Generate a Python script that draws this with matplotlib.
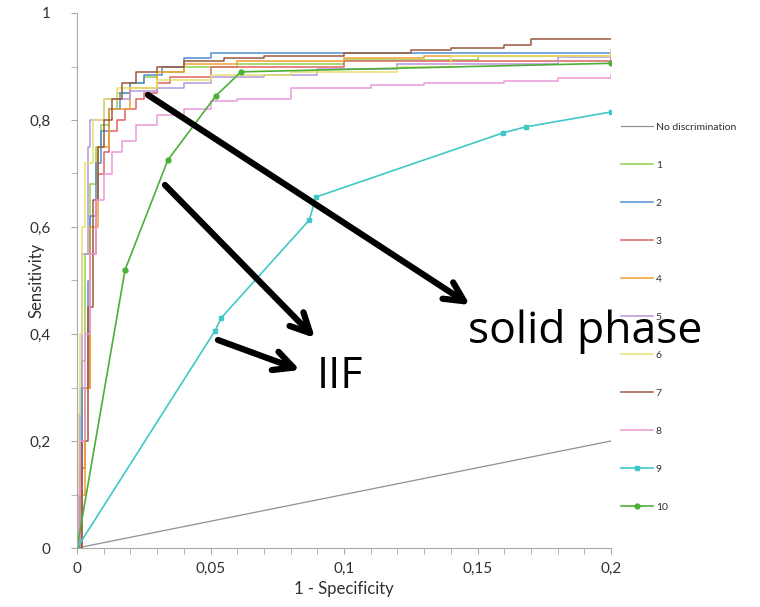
import matplotlib
matplotlib.use("Agg")
import matplotlib.pyplot as plt
from matplotlib.ticker import MultipleLocator, FuncFormatter

plt.rcParams['font.family'] = ['Lato', 'DejaVu Sans']

# ---- data ----
nodisc_x = [0.0, 0.2]
nodisc_y = [0.0, 0.2]

c1_x = [0, 0.001, 0.002, 0.003, 0.005, 0.007, 0.009, 0.012, 0.015, 0.02, 0.025, 0.03, 0.04, 0.06, 0.1, 0.15, 0.2]
c1_y = [0, 0.15, 0.35, 0.55, 0.68, 0.75, 0.79, 0.82, 0.85, 0.87, 0.88, 0.89, 0.90, 0.905, 0.912, 0.92, 0.925]

c2_x = [0, 0.001, 0.002, 0.004, 0.005, 0.007, 0.009, 0.012, 0.016, 0.02, 0.025, 0.032, 0.04, 0.05, 0.2]
c2_y = [0, 0.12, 0.3, 0.5, 0.62, 0.72, 0.78, 0.82, 0.85, 0.87, 0.885, 0.9, 0.915, 0.925, 0.925]

c3_x = [0, 0.002, 0.003, 0.005, 0.007, 0.008, 0.010, 0.012, 0.015, 0.018, 0.022, 0.025, 0.03, 0.035, 0.05, 0.1, 0.2]
c3_y = [0, 0.15, 0.3, 0.55, 0.65, 0.7, 0.74, 0.78, 0.80, 0.82, 0.84, 0.85, 0.87, 0.88, 0.9, 0.91, 0.918]

c4_x = [0, 0.001, 0.003, 0.005, 0.008, 0.012, 0.02, 0.03, 0.04, 0.06, 0.1, 0.13, 0.2]
c4_y = [0, 0.1, 0.3, 0.6, 0.75, 0.82, 0.86, 0.89, 0.905, 0.91, 0.915, 0.92, 0.93]

c5_x = [0, 0.001, 0.002, 0.004, 0.005, 0.010, 0.02, 0.03, 0.04, 0.05, 0.07, 0.09, 0.12, 0.18, 0.2]
c5_y = [0, 0.3, 0.55, 0.75, 0.8, 0.84, 0.855, 0.86, 0.87, 0.88, 0.885, 0.895, 0.905, 0.918, 0.918]

c6_x = [0, 0.0005, 0.001, 0.002, 0.003, 0.006, 0.01, 0.015, 0.03, 0.05, 0.08, 0.12, 0.14, 0.2]
c6_y = [0, 0.25, 0.4, 0.6, 0.72, 0.8, 0.84, 0.86, 0.875, 0.885, 0.89, 0.9, 0.92, 0.93]

c7_x = [0, 0.002, 0.004, 0.006, 0.008, 0.010, 0.013, 0.017, 0.022, 0.03, 0.04, 0.055, 0.07, 0.1, 0.125, 0.14, 0.16, 0.17, 0.2]
c7_y = [0, 0.2, 0.45, 0.65, 0.75, 0.8, 0.84, 0.87, 0.89, 0.9, 0.91, 0.915, 0.92, 0.925, 0.93, 0.935, 0.94, 0.952, 0.952]

c8_x = [0, 0.0005, 0.001, 0.003, 0.005, 0.007, 0.01, 0.013, 0.017, 0.022, 0.03, 0.04, 0.05, 0.06, 0.08, 0.11, 0.13, 0.16, 0.18, 0.2]
c8_y = [0, 0.1, 0.2, 0.4, 0.55, 0.65, 0.7, 0.74, 0.76, 0.79, 0.81, 0.82, 0.835, 0.84, 0.86, 0.865, 0.87, 0.872, 0.878, 0.884]

c9_x = [0, 0.0517, 0.054, 0.087, 0.0895, 0.1596, 0.168, 0.2]
c9_y = [0, 0.406, 0.43, 0.613, 0.656, 0.776, 0.787, 0.815]

c10_x = [0, 0.018, 0.034, 0.052, 0.0614, 0.2]
c10_y = [0, 0.52, 0.725, 0.845, 0.89, 0.906]

labels = ["No discrimination", "1", "2", "3", "4", "5", "6", "7", "8", "9", "10"]
colors = ["#909090", "#92d050", "#4f8fd0", "#e06565", "#f0a030", "#b49ad8",
          "#e8e070", "#9b5a3a", "#ea9ad8", "#40c8c8", "#4caf3a"]

fig = plt.figure(figsize=(7.6, 6.07), dpi=100)
ax = fig.add_axes([77/760, 1-548/607, (611-77)/760, (548-13)/607])

ax.plot(nodisc_x, nodisc_y, color=colors[0], lw=0.9, label=labels[0])
steps = [(c1_x, c1_y), (c2_x, c2_y), (c3_x, c3_y), (c4_x, c4_y), (c5_x, c5_y),
         (c6_x, c6_y), (c7_x, c7_y), (c8_x, c8_y)]
for i, (xs, ys) in enumerate(steps):
    ax.plot(xs, ys, drawstyle='steps-post', color=colors[i+1], lw=1.1, label=labels[i+1])
ax.plot(c9_x, c9_y, color=colors[9], lw=1.2, marker='s', ms=3, label=labels[9])
ax.plot(c10_x, c10_y, color=colors[10], lw=1.2, marker='o', ms=3.5, label=labels[10])

ax.set_xlim(0, 0.2)
ax.set_ylim(0, 1)
for s in ['top', 'right']:
    ax.spines[s].set_visible(False)
for s in ['left', 'bottom']:
    ax.spines[s].set_color('#a8a8a8')
ax.xaxis.set_major_locator(MultipleLocator(0.05))
ax.xaxis.set_minor_locator(MultipleLocator(0.01))
ax.yaxis.set_major_locator(MultipleLocator(0.2))
ax.yaxis.set_minor_locator(MultipleLocator(0.1))
fmt = FuncFormatter(lambda v, p: ('%g' % round(v, 3)).replace('.', ','))
ax.xaxis.set_major_formatter(fmt)
ax.yaxis.set_major_formatter(fmt)
ax.tick_params(which='both', colors='#a8a8a8', labelcolor='#303030', labelsize=11, length=4)
ax.tick_params(axis='x', pad=6)
ax.tick_params(axis='y', pad=15)
ax.set_xlabel("1 - Specificity", fontsize=12, color='#303030', labelpad=4)
ax.set_ylabel("Sensitivity", fontsize=12, color='#303030')
ax.yaxis.set_label_coords(-0.06, 0.5)

fig.legend(loc='upper left', bbox_to_anchor=(612/760, 1-113/607), frameon=False,
           fontsize=7.5, labelspacing=2.76, handlelength=3.0, handletextpad=0.3,
           labelcolor='#303030')

# annotations
def arrow(x0, y0, x1, y1):
    ax.annotate("", xy=(x1, 607-y1), xytext=(x0, 607-y0), xycoords='figure pixels',
                textcoords='figure pixels', annotation_clip=False,
                arrowprops=dict(arrowstyle='->', lw=4.5, color='black', mutation_scale=35,
                                shrinkA=0, shrinkB=0))

arrow(148, 95, 470, 305)
arrow(165, 185, 315, 338)
arrow(218, 340, 300, 370)
fig.text(468/760, 1-343/607, "solid phase", fontsize=32, color='black', ha='left', va='baseline',
         family=['Open Sans', 'DejaVu Sans'])
fig.text(317/760, 1-388/607, "IIF", fontsize=31, color='black', ha='left', va='baseline',
         family=['Open Sans', 'DejaVu Sans'])

fig.savefig("out.png", dpi=100)
